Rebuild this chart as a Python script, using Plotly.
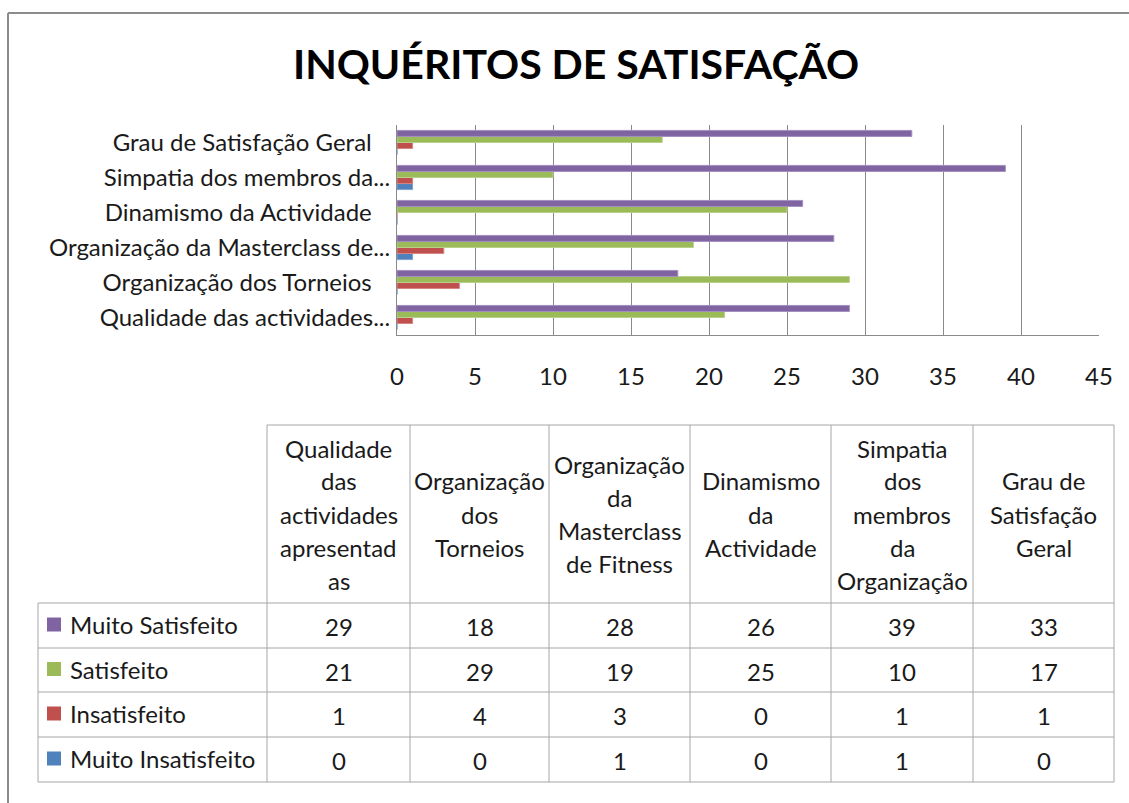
import plotly.graph_objects as go

# ---------------- data ----------------
categories_axis = [
    "Qualidade das actividades...",
    "Organização dos Torneios",
    "Organização da Masterclass de...",
    "Dinamismo da Actividade",
    "Simpatia dos membros da...",
    "Grau de Satisfação Geral",
]
header_labels = [
    "Qualidade<br>das<br>actividades<br>apresentad<br>as",
    "Organização<br>dos<br>Torneios",
    "Organização<br>da<br>Masterclass<br>de Fitness",
    "Dinamismo<br>da<br>Actividade",
    "Simpatia<br>dos<br>membros<br>da<br>Organização",
    "Grau de<br>Satisfação<br>Geral",
]
series_names = ["Muito Satisfeito", "Satisfeito", "Insatisfeito", "Muito Insatisfeito"]
muito_satisfeito = [29, 18, 28, 26, 39, 33]
satisfeito = [21, 29, 19, 25, 10, 17]
insatisfeito = [1, 4, 3, 0, 1, 1]
muito_insatisfeito = [0, 0, 1, 0, 1, 0]
series_values = [muito_satisfeito, satisfeito, insatisfeito, muito_insatisfeito]
series_colors = ["#8064A2", "#9BBB59", "#C0504D", "#4F81BD"]
series_edges = ["#A48FC0", "#B9D08A", "#D58583", "#7FA3D3"]
x_ticks = [0, 5, 10, 15, 20, 25, 30, 35, 40, 45]
title_text = "INQUÉRITOS DE SATISFAÇÃO"

# ---------------- layout constants (pixels) ----------------
W, H = 1129, 803
FONT = "Lato"
FS = 24
TXT = "#1a1a1a"
GRID = "#8a8a8a"
TBL = "#a6a6a6"


def px(x):
    return x / W


def py(y):
    return 1 - y / H


PLOT_L, PLOT_R, PLOT_T, PLOT_B = 397, 1099, 125, 335
COL_EDGES = [38, 267, 410, 549, 690, 831, 973, 1114]
HEAD_T, HEAD_B = 425, 603
ROW_EDGES = [603, 648, 692, 737, 782]
HEAD_LINE = 33

# Excel lets the ellipsis of truncated labels hang past the right margin
tick_text = [c if c.endswith("...") else c + "\u00a0\u00a0\u00a0" for c in categories_axis]

fig = go.Figure()

# grouped horizontal bars are drawn bottom-up, so add the series in reverse
for name, vals, col, edge in reversed(list(zip(series_names, series_values, series_colors, series_edges))):
    fig.add_trace(go.Bar(
        y=categories_axis, x=vals, name=name, orientation="h",
        marker=dict(color=col, line=dict(color=edge, width=1)),
        showlegend=False,
    ))

fig.update_layout(
    width=W, height=H, autosize=False,
    margin=dict(l=0, r=0, t=0, b=0, pad=0),
    paper_bgcolor="white", plot_bgcolor="white",
    barmode="group", bargap=0.31, bargroupgap=0,
    font=dict(family=FONT, color=TXT, size=FS),
    xaxis=dict(
        domain=[px(PLOT_L), px(PLOT_R)], range=[0, 45],
        tickvals=x_ticks, ticktext=[str(t) for t in x_ticks],
        showgrid=True, gridcolor=GRID, gridwidth=1,
        showline=True, linecolor=GRID, linewidth=1,
        ticks="", ticklabelstandoff=20, zeroline=False,
        tickfont=dict(size=FS, family=FONT, color=TXT),
        fixedrange=True, automargin=False,
    ),
    yaxis=dict(
        domain=[py(PLOT_B), py(PLOT_T)],
        type="category", categoryorder="array", categoryarray=categories_axis,
        tickvals=categories_axis, ticktext=tick_text,
        showline=True, linecolor=GRID, linewidth=1,
        ticks="", ticklabelstandoff=1, showgrid=False,
        tickfont=dict(size=FS, family=FONT, color=TXT),
        fixedrange=True, automargin=False,
    ),
)

shapes = []
annotations = []

# outer frame (left and top edges visible)
shapes.append(dict(type="line", xref="paper", yref="paper",
                   x0=px(8), x1=px(W + 5), y0=py(13), y1=py(13),
                   line=dict(color="#8c8c8c", width=2)))
shapes.append(dict(type="line", xref="paper", yref="paper",
                   x0=px(8), x1=px(8), y0=py(13), y1=py(H + 5),
                   line=dict(color="#8c8c8c", width=2)))

# title
annotations.append(dict(text="<b>" + title_text + "</b>", xref="paper", yref="paper",
                        x=px(576), y=py(64), xanchor="center", yanchor="middle",
                        showarrow=False, font=dict(size=41, family=FONT, color="#000000")))

# table lines
shapes.append(dict(type="line", xref="paper", yref="paper",
                   x0=px(COL_EDGES[1]), x1=px(COL_EDGES[-1]), y0=py(HEAD_T), y1=py(HEAD_T),
                   line=dict(color=TBL, width=1)))
for ry in ROW_EDGES:
    shapes.append(dict(type="line", xref="paper", yref="paper",
                       x0=px(COL_EDGES[0]), x1=px(COL_EDGES[-1]), y0=py(ry), y1=py(ry),
                       line=dict(color=TBL, width=1)))
for i, cx in enumerate(COL_EDGES):
    top = ROW_EDGES[0] if i == 0 else HEAD_T
    shapes.append(dict(type="line", xref="paper", yref="paper",
                       x0=px(cx), x1=px(cx), y0=py(top), y1=py(ROW_EDGES[-1]),
                       line=dict(color=TBL, width=1)))

# header texts (each line placed individually for Excel-like spacing)
head_mid = (HEAD_T + HEAD_B) / 2
for j, lab in enumerate(header_labels):
    lines = lab.split("<br>")
    cx = (COL_EDGES[j + 1] + COL_EDGES[j + 2]) / 2
    n = len(lines)
    for k, ln in enumerate(lines):
        yy = head_mid + (k - (n - 1) / 2) * HEAD_LINE
        annotations.append(dict(text=ln, xref="paper", yref="paper",
                                x=px(cx), y=py(yy), xanchor="center", yanchor="middle",
                                showarrow=False, font=dict(size=FS, family=FONT, color=TXT)))

# rows: legend key + label + values
for r, (name, vals, col) in enumerate(zip(series_names, series_values, series_colors)):
    ymid = (ROW_EDGES[r] + ROW_EDGES[r + 1]) / 2
    shapes.append(dict(type="rect", xref="paper", yref="paper",
                       x0=px(47), x1=px(61), y0=py(ymid - 8), y1=py(ymid + 6),
                       fillcolor=col, line=dict(width=0)))
    annotations.append(dict(text=name, xref="paper", yref="paper",
                            x=px(68), y=py(ymid - 1), xanchor="left", yanchor="middle",
                            showarrow=False, font=dict(size=FS, family=FONT, color=TXT)))
    for j, v in enumerate(vals):
        cx = (COL_EDGES[j + 1] + COL_EDGES[j + 2]) / 2
        annotations.append(dict(text=str(v), xref="paper", yref="paper",
                                x=px(cx), y=py(ymid + 1), xanchor="center", yanchor="middle",
                                showarrow=False, font=dict(size=FS, family=FONT, color=TXT)))

fig.update_layout(shapes=shapes, annotations=annotations)
fig.write_html(
    "out.html",
    config=dict(displayModeBar=False, responsive=False),
    post_script="document.body.style.margin='0';document.body.style.overflow='hidden';",
)
